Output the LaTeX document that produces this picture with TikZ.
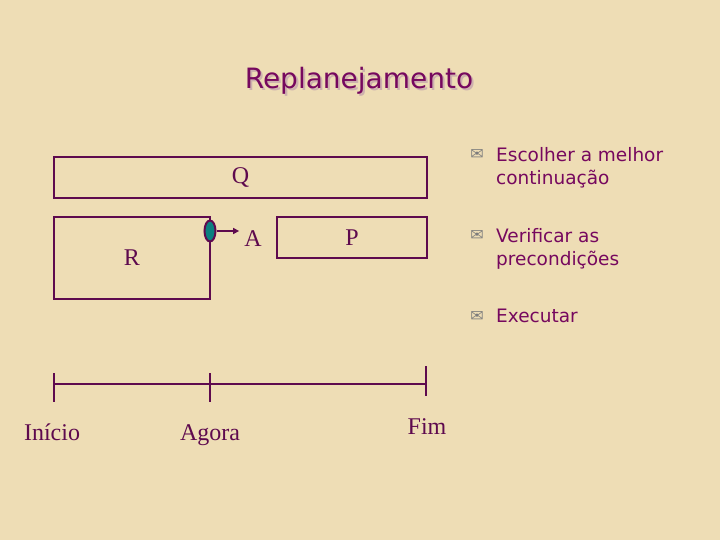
\documentclass[tikz,border=0pt]{standalone}
\usepackage{fontspec}
\setmainfont{Liberation Serif}
\newfontfamily\handfont{DejaVu Sans}
\usetikzlibrary{arrows.meta,positioning,shapes.geometric}
\definecolor{ink}{HTML}{5E0A4E}
\definecolor{plum}{HTML}{76085E}
\definecolor{shade}{HTML}{CDB0AE}
\definecolor{paper}{HTML}{EEDDB5}
\definecolor{tealdot}{HTML}{0A8080}
\definecolor{envgray}{HTML}{7C7C7C}
\newcommand{\shadowed}[1]{\makebox[0pt][l]{\hspace{2pt}\raisebox{-2pt}{\textcolor{shade}{#1}}}#1}
\tikzset{
  frame/.style={draw=ink,line width=2.7pt,inner sep=0pt,font=\fontsize{24}{28}\selectfont,text=ink},
  lbl/.style={font=\fontsize{24}{28}\selectfont,text=ink,inner sep=0pt},
  item/.style={font=\handfont\fontsize{18.5}{23}\selectfont,text=plum,align=left,anchor=north west,inner sep=0pt},
  env/.style={font=\handfont\fontsize{16}{16}\selectfont,text=envgray,inner sep=0pt},
  tickline/.style={draw=ink,line width=2.7pt},
  ar/.style={-{Triangle[length=6pt,width=6pt]},draw=ink,line width=1.6pt},
  dot/.style={ellipse,draw=ink,line width=2pt,fill=tealdot,minimum width=11pt,minimum height=21pt,inner sep=0pt},
}

\begin{document}
\begin{tikzpicture}[x=1pt,y=-1pt]
\fill[paper] (0,0) rectangle (720,540);
\useasboundingbox (0,0) rectangle (720,540);
% title
\node[font=\handfont\fontsize{28}{32}\selectfont,text=plum,anchor=base,inner sep=0pt] (title) at (359,89) {\shadowed{Replanejamento}};
% boxes
\node[frame,minimum width=373pt,minimum height=41pt] (Q) at (240.5,177.5) {Q};
\node[frame,minimum width=156pt,minimum height=82pt] (R) at (132,258) {R};
\node[frame,minimum width=150pt,minimum height=41pt] (P) at (352,237.5) {P};
\node[dot] (now) at (210,231) {};
\node[lbl,anchor=base] (A) at (253,247) {A};
\draw[ar] (now.east) -- ([xshift=-5pt]now.east -| A.west);
% timeline
\coordinate (t0) at (54,384);
\coordinate (t1) at (210,384);
\coordinate (t2) at (426,384);
\draw[tickline] (t0) -- (t1) -- (t2);
\draw[tickline] (t0) ++(0,-11) -- ++(0,29);
\draw[tickline] (t1) ++(0,-11) -- ++(0,29);
\draw[tickline] (t2) ++(0,-18) -- ++(0,30);
\node[lbl,anchor=base] (inicio) at (52,440) {Início};
\node[lbl,anchor=base] (agora) at (210,440) {Agora};
\node[lbl,anchor=base] (fim) at (427,434) {Fim};
% steps
\node[env] (e1) at (477,155) {✉};
\node[item] (s1) at (496,147) {Escolher a melhor\\continuação};
\node[env] (e2) at (477,236) {✉};
\node[item] (s2) at (496,228) {Verificar as\\precondições};
\node[env] (e3) at (477,317) {✉};
\node[item] (s3) at (496,309) {Executar};
\end{tikzpicture}
\end{document}
